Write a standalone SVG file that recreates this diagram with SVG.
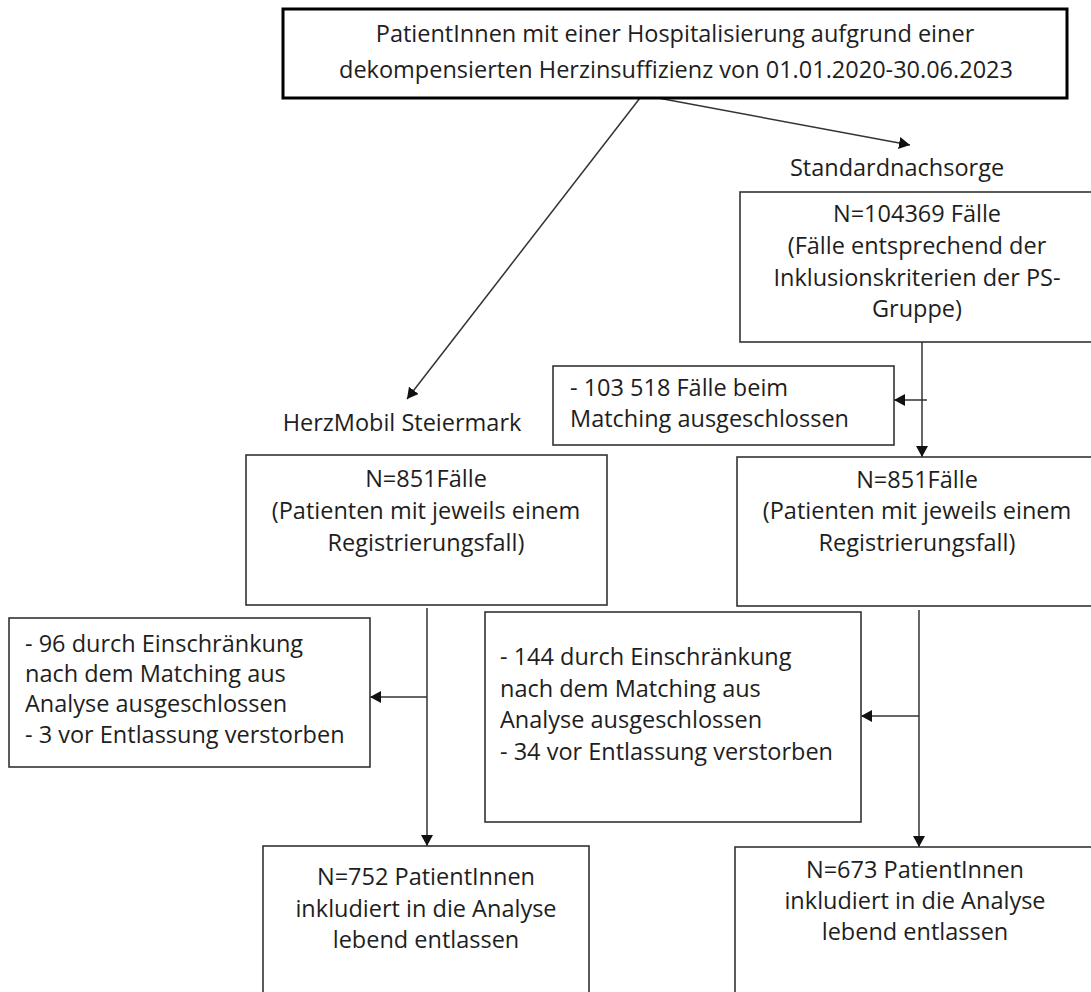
<svg xmlns="http://www.w3.org/2000/svg" width="1091" height="992" viewBox="0 0 1091 992">
<style>
.box{fill:#fff;stroke:#333;stroke-width:1.6}
.main{fill:#fff;stroke:#000;stroke-width:3}
.t{font-family:"Open Sans","Liberation Sans",sans-serif;font-size:23.5px;fill:#1e1e1e}
.c{text-anchor:middle}
.ln{fill:none;stroke:#333;stroke-width:1.5}
</style>
<defs>
<marker id="ah" viewBox="0 0 11 12" refX="11" refY="6" markerWidth="11" markerHeight="12" markerUnits="userSpaceOnUse" orient="auto">
<path d="M0,0 L11,6 L0,12 Z" fill="#111"/>
</marker>
</defs>
<rect width="1091" height="992" fill="#fff"/>
<g id="connectors">
<line class="ln" x1="640" y1="98" x2="407" y2="399" marker-end="url(#ah)"/>
<line class="ln" x1="658" y1="98" x2="910" y2="145" marker-end="url(#ah)"/>
<line class="ln" x1="922" y1="342" x2="922" y2="457" marker-end="url(#ah)"/>
<line class="ln" x1="927" y1="400" x2="894" y2="400" marker-end="url(#ah)"/>
<line class="ln" x1="427" y1="608" x2="427" y2="846" marker-end="url(#ah)"/>
<line class="ln" x1="427" y1="697" x2="370" y2="697" marker-end="url(#ah)"/>
<line class="ln" x1="919" y1="610" x2="919" y2="847" marker-end="url(#ah)"/>
<line class="ln" x1="919" y1="716" x2="861" y2="716" marker-end="url(#ah)"/>
</g>
<g id="top">
<rect class="main" x="283" y="9" width="784" height="89"/>
<text class="t c" x="675" y="42">PatientInnen mit einer Hospitalisierung aufgrund einer</text>
<text class="t c" x="676" y="78">dekompensierten Herzinsuffizienz von 01.01.2020-30.06.2023</text>
</g>
<g id="label-standard">
<text class="t c" x="897" y="176">Standardnachsorge</text>
</g>
<g id="label-herzmobil">
<text class="t c" x="402" y="431">HerzMobil Steiermark</text>
</g>
<g id="s1">
<rect class="box" x="740" y="192" width="354" height="150"/>
<text class="t c" x="917" y="222">N=104369 Fälle</text>
<text class="t c" x="917" y="254">(Fälle entsprechend der</text>
<text class="t c" x="917" y="286">Inklusionskriterien der PS-</text>
<text class="t c" x="917" y="317">Gruppe)</text>
</g>
<g id="e1">
<rect class="box" x="553" y="366" width="341" height="79"/>
<text class="t" x="570" y="396">- 103 518 Fälle beim</text>
<text class="t" x="570" y="427">Matching ausgeschlossen</text>
</g>
<g id="h1">
<rect class="box" x="246" y="455" width="361" height="150"/>
<text class="t c" x="426" y="487">N=851Fälle</text>
<text class="t c" x="426" y="519">(Patienten mit jeweils einem</text>
<text class="t c" x="426" y="551">Registrierungsfall)</text>
</g>
<g id="s2">
<rect class="box" x="737" y="457" width="360" height="149"/>
<text class="t c" x="917" y="488">N=851Fälle</text>
<text class="t c" x="917" y="519">(Patienten mit jeweils einem</text>
<text class="t c" x="917" y="551">Registrierungsfall)</text>
</g>
<g id="e2">
<rect class="box" x="9" y="618" width="361" height="149"/>
<text class="t" x="25" y="652">- 96 durch Einschränkung</text>
<text class="t" x="25" y="682">nach dem Matching aus</text>
<text class="t" x="25" y="712">Analyse ausgeschlossen</text>
<text class="t" x="25" y="743">- 3 vor Entlassung verstorben</text>
</g>
<g id="e3">
<rect class="box" x="485" y="612" width="376" height="210"/>
<text class="t" x="500" y="665">- 144 durch Einschränkung</text>
<text class="t" x="500" y="697">nach dem Matching aus</text>
<text class="t" x="500" y="728">Analyse ausgeschlossen</text>
<text class="t" x="500" y="760">- 34 vor Entlassung verstorben</text>
</g>
<g id="b1">
<rect class="box" x="263" y="846" width="326" height="160"/>
<text class="t c" x="426" y="885">N=752 PatientInnen</text>
<text class="t c" x="426" y="917">inkludiert in die Analyse</text>
<text class="t c" x="426" y="948">lebend entlassen</text>
</g>
<g id="b2">
<rect class="box" x="735" y="847" width="362" height="160"/>
<text class="t c" x="915" y="878">N=673 PatientInnen</text>
<text class="t c" x="915" y="909">inkludiert in die Analyse</text>
<text class="t c" x="915" y="940">lebend entlassen</text>
</g>
</svg>
